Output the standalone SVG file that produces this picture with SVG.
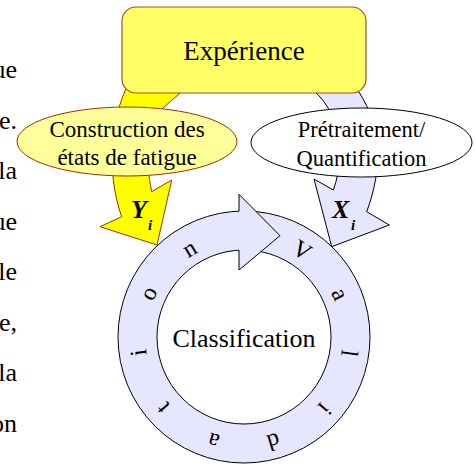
<svg xmlns="http://www.w3.org/2000/svg" width="475" height="465" viewBox="0 0 475 465">
<style>
  text{font-family:"Liberation Serif","Times New Roman",serif;fill:#000}
  .doc{font-size:26px;text-anchor:end}
  .lbl{text-anchor:middle}
  .var{font-weight:bold;font-style:italic}
  .yel{fill:#ffff00;stroke:#993300;stroke-width:1;stroke-linejoin:miter}
  .lav{fill:#e6e6ff;stroke:#000;stroke-width:1;stroke-linejoin:miter}
  .box{fill:#ffff66;stroke:#a0522d;stroke-width:1.2}
  .ell1{fill:#ffff99;stroke:#993300;stroke-width:1}
  .ell2{fill:#fff;stroke:#000;stroke-width:1}
</style>
<defs>
  <path id="ringPath" d="M244,241 A98.5,98.5 0 1 1 244,438 A98.5,98.5 0 1 1 244,241"/>
</defs>
<g id="document-text" class="doc">
  <text class="doc" x="17" y="78">ue</text>
  <text class="doc" x="17" y="128.5">e.</text>
  <text class="doc" x="17" y="179">la</text>
  <text class="doc" x="17" y="229.5">ue</text>
  <text class="doc" x="17" y="280">le</text>
  <text class="doc" x="17" y="330.5">e,</text>
  <text class="doc" x="17" y="381">la</text>
  <text class="doc" x="17" y="431.5">on</text>
</g>
<g id="connectors">
  <g id="arrow-Y">
    <path class="yel" d="M128,85 C112,115 105,170 121.7,216.7 L100,226.7 L157,245 L171.7,180 L151.7,191.7 C145,160 146,125 163,108 L195,80 Z"/>
    <text class="var" x="131" y="218" font-size="26">Y</text>
    <text class="var" x="148" y="230" font-size="15">i</text>
  </g>
  <g id="arrow-X">
    <path class="lav" d="M300,82 C338,100 348,150 333.3,190 L314,179 L331.7,246.7 L389.3,225 L366.7,211.7 C382,170 385,125 352,82 Z"/>
    <text class="var" x="332" y="218" font-size="26">X</text>
    <text class="var" x="351" y="230" font-size="15">i</text>
  </g>
</g>
<g id="experience">
  <rect class="box" x="122" y="7" width="244" height="86" rx="14" ry="14"/>
  <text class="lbl" x="244" y="60" font-size="27">Expérience</text>
</g>
<g id="construction">
  <ellipse class="ell1" cx="127" cy="141.5" rx="110" ry="34.5"/>
  <text class="lbl" x="127" y="137" font-size="23">Construction des</text>
  <text class="lbl" x="127" y="165" font-size="23">états de fatigue</text>
</g>
<g id="pretraitement">
  <ellipse class="ell2" cx="361.5" cy="142.5" rx="110.5" ry="34.5"/>
  <text class="lbl" x="361.5" y="137" font-size="22.5">Prétraitement/</text>
  <text class="lbl" x="361.5" y="166" font-size="22.5">Quantification</text>
</g>
<g id="classification">
  <path class="lav" fill-rule="evenodd" d="M244,211 A126,126 0 1 1 244,463 A126,126 0 1 1 244,211 Z M244,250 A87,87 0 1 0 244,424 A87,87 0 1 0 244,250 Z"/>
  <polygon points="239,194.3 280,235.7 239,270" fill="#e6e6ff" stroke="none"/>
  <polyline points="239,211.1 239,194.3 280,235.7 239,270 239,250.1" fill="none" stroke="#000" stroke-width="1"/>
  <text font-size="24"><textPath href="#ringPath" startOffset="48.07"><tspan dx="0 42.74 48.07 50.06 47.4 45.4 48.07 50.06 47.4 44.73">Validation</tspan></textPath></text>
  <text class="lbl" x="244" y="347" font-size="26">Classification</text>
</g>
</svg>
